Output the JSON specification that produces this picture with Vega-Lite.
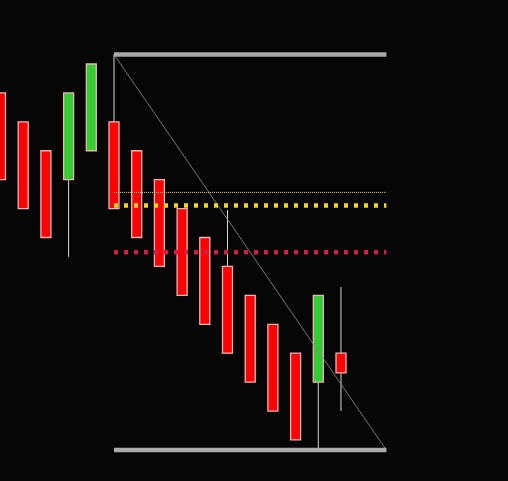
{
  "$schema": "https://vega.github.io/schema/vega-lite/v6.json",
  "width": 508,
  "height": 481,
  "autosize": {"type": "none"},
  "padding": 0,
  "background": "#050505",
  "config": {"view": {"stroke": null}},
  "datasets": {
    "candles": [
      {"i": 0, "open": 260, "high": 260, "low": 230, "close": 230},
      {"i": 1, "open": 250, "high": 250, "low": 220, "close": 220},
      {"i": 2, "open": 240, "high": 240, "low": 210, "close": 210},
      {"i": 3, "open": 230, "high": 260, "low": 203.3, "close": 260},
      {"i": 4, "open": 240, "high": 270, "low": 240, "close": 270},
      {"i": 5, "open": 250, "high": 273.3, "low": 220, "close": 220},
      {"i": 6, "open": 240, "high": 240, "low": 210, "close": 210},
      {"i": 7, "open": 230, "high": 230, "low": 200, "close": 200},
      {"i": 8, "open": 220, "high": 220, "low": 190, "close": 190},
      {"i": 9, "open": 210, "high": 210, "low": 180, "close": 180},
      {"i": 10, "open": 200, "high": 219.5, "low": 170, "close": 170},
      {"i": 11, "open": 190, "high": 190, "low": 160, "close": 160},
      {"i": 12, "open": 180, "high": 180, "low": 150, "close": 150},
      {"i": 13, "open": 170, "high": 170, "low": 140, "close": 140},
      {"i": 14, "open": 160, "high": 190, "low": 136.5, "close": 190},
      {"i": 15, "open": 170, "high": 192.9, "low": 150, "close": 163.2}
    ],
    "levels": [
      {"name": "high", "from": 5, "to": 17, "price": 273.3},
      {"name": "low", "from": 5, "to": 17, "price": 136.5},
      {"name": "mid", "from": 5, "to": 17, "price": 225.6},
      {"name": "gold", "from": 5, "to": 17, "price": 221.1},
      {"name": "crimson", "from": 5, "to": 17, "price": 204.9}
    ],
    "swing": [
      {"from": 5, "to": 17, "start": 273.3, "end": 136.5}
    ]
  },
  "layer": [
    {
      "data": {"name": "candles"},
      "mark": {"type": "rule", "color": "#d8d8d8", "strokeWidth": 1},
      "encoding": {
        "x": {"field": "i", "type": "quantitative", "scale": {"domain": [-0.022, 22.357], "nice": false, "zero": false, "padding": 0}, "axis": null},
        "y": {"field": "low", "type": "quantitative", "scale": {"domain": [125.81, 292.13], "nice": false, "zero": false, "padding": 0}, "axis": null},
        "y2": {"field": "high"}
      }
    },
    {
      "data": {"name": "candles"},
      "mark": {"type": "bar", "width": 10, "stroke": "#f0b4b4", "strokeWidth": 1.3},
      "encoding": {
        "x": {"field": "i", "type": "quantitative"},
        "y": {"field": "open", "type": "quantitative"},
        "y2": {"field": "close"},
        "color": {
          "condition": {"test": "datum.close > datum.open", "value": "#33cc33"},
          "value": "#ff0000"
        }
      }
    },
    {
      "data": {"name": "swing"},
      "mark": {"type": "rule", "color": "#8a8a8a", "strokeWidth": 1, "opacity": 0.85},
      "encoding": {
        "x": {"field": "from", "type": "quantitative"},
        "x2": {"field": "to"},
        "y": {"field": "start", "type": "quantitative"},
        "y2": {"field": "end"}
      }
    },
    {
      "data": {"name": "levels"},
      "transform": [{"filter": "datum.name === 'high' || datum.name === 'low'"}],
      "mark": {"type": "rule", "color": "#aaaaaa", "strokeWidth": 4.5},
      "encoding": {
        "x": {"field": "from", "type": "quantitative"},
        "x2": {"field": "to"},
        "y": {"field": "price", "type": "quantitative"}
      }
    },
    {
      "data": {"name": "levels"},
      "transform": [{"filter": "datum.name === 'mid'"}],
      "mark": {"type": "rule", "color": "#f2d670", "strokeWidth": 1, "strokeDash": [1, 1]},
      "encoding": {
        "x": {"field": "from", "type": "quantitative"},
        "x2": {"field": "to"},
        "y": {"field": "price", "type": "quantitative"}
      }
    },
    {
      "data": {"name": "levels"},
      "transform": [{"filter": "datum.name === 'gold'"}],
      "mark": {"type": "rule", "color": "#f5d21c", "strokeWidth": 4.5, "strokeDash": [4, 6]},
      "encoding": {
        "x": {"field": "from", "type": "quantitative"},
        "x2": {"field": "to"},
        "y": {"field": "price", "type": "quantitative"}
      }
    },
    {
      "data": {"name": "levels"},
      "transform": [{"filter": "datum.name === 'crimson'"}],
      "mark": {"type": "rule", "color": "#d41c48", "strokeWidth": 4.5, "strokeDash": [4, 6]},
      "encoding": {
        "x": {"field": "from", "type": "quantitative"},
        "x2": {"field": "to"},
        "y": {"field": "price", "type": "quantitative"}
      }
    }
  ]
}
